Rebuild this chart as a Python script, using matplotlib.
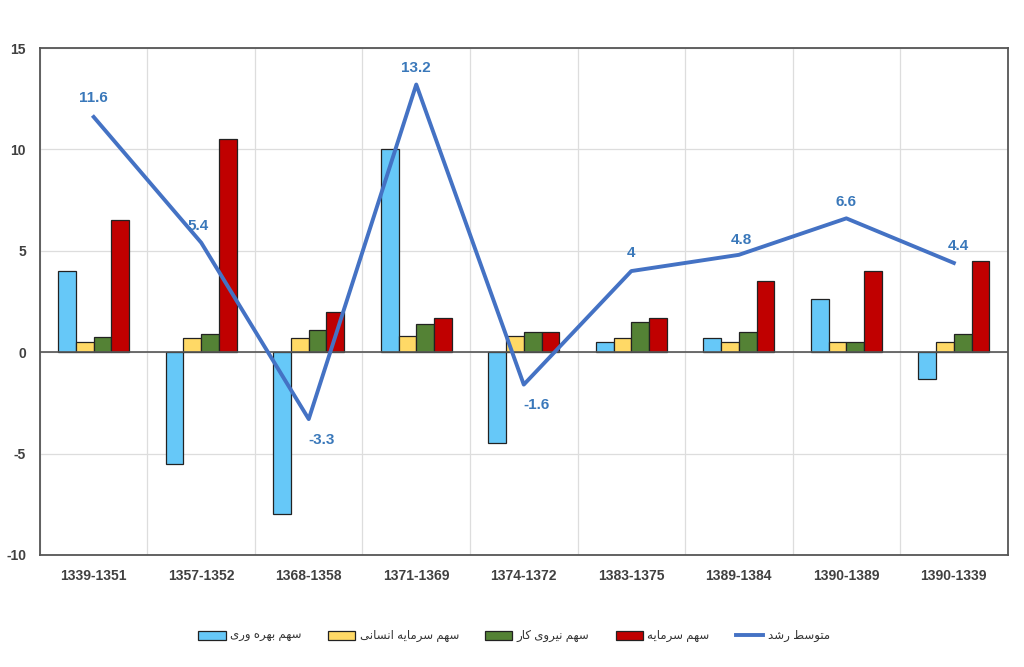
import numpy as np
import matplotlib
matplotlib.use("Agg")
import matplotlib.pyplot as plt
from matplotlib.patches import Patch
from matplotlib.lines import Line2D

plt.rcParams['font.family'] = ['Liberation Sans', 'DejaVu Sans']

# داده‌ها
periods = ['1339-1351', '1357-1352', '1368-1358', '1371-1369', '1374-1372',
           '1383-1375', '1389-1384', '1390-1389', '1390-1339']
productivity = [4.0, -5.5, -8.0, 10.0, -4.5, 0.5, 0.7, 2.6, -1.3]
human_capital = [0.5, 0.7, 0.7, 0.8, 0.8, 0.7, 0.5, 0.5, 0.5]
labour = [0.75, 0.9, 1.1, 1.4, 1.0, 1.5, 1.0, 0.5, 0.9]
capital = [6.5, 10.5, 2.0, 1.7, 1.0, 1.7, 3.5, 4.0, 4.5]
avg_growth = [11.6, 5.4, -3.3, 13.2, -1.6, 4, 4.8, 6.6, 4.4]
label_names = ['سهم بهره وری', 'سهم سرمایه انسانی', 'سهم نیروی کار', 'سهم سرمایه', 'متوسط رشد']

# شکل‌دهی ساده حروف فارسی (matplotlib راست‌به‌چپ را پشتیبانی نمی‌کند)
FORMS = {
    'ا': ('\uFE8D', '\uFE8E', None, None),
    'ب': ('\uFE8F', '\uFE90', '\uFE91', '\uFE92'),
    'ت': ('\uFE95', '\uFE96', '\uFE97', '\uFE98'),
    'د': ('\uFEA9', '\uFEAA', None, None),
    'ر': ('\uFEAD', '\uFEAE', None, None),
    'س': ('\uFEB1', '\uFEB2', '\uFEB3', '\uFEB4'),
    'ش': ('\uFEB5', '\uFEB6', '\uFEB7', '\uFEB8'),
    'ط': ('\uFEC1', '\uFEC2', '\uFEC3', '\uFEC4'),
    'م': ('\uFEE1', '\uFEE2', '\uFEE3', '\uFEE4'),
    'ن': ('\uFEE5', '\uFEE6', '\uFEE7', '\uFEE8'),
    'ه': ('\uFEE9', '\uFEEA', '\uFEEB', '\uFEEC'),
    'و': ('\uFEED', '\uFEEE', None, None),
    'ی': ('\uFBFC', '\uFBFD', '\uFBFE', '\uFBFF'),
    'ک': ('\uFB8E', '\uFB8F', '\uFB90', '\uFB91'),
}


def shape(text):
    out = []
    for i, ch in enumerate(text):
        if ch not in FORMS:
            out.append(ch)
            continue
        iso, fin, ini, med = FORMS[ch]
        prev = text[i - 1] if i > 0 else ''
        nxt = text[i + 1] if i + 1 < len(text) else ''
        jp = prev in FORMS and FORMS[prev][2] is not None
        jn = nxt in FORMS and ini is not None
        if jp and jn:
            out.append(med)
        elif jp:
            out.append(fin)
        elif jn:
            out.append(ini)
        else:
            out.append(iso)
    return ''.join(reversed(out))


colors = ['#66C8F8', '#FFD966', '#548235', '#C00000']
line_color = '#4472C4'
lab_color = '#3A78BA'

x = np.arange(len(periods))
w = 0.165

fig = plt.figure(figsize=(10.24, 6.67), dpi=100)
ax = fig.add_axes([0.039, 0.168, 0.945, 0.760])

series = [productivity, human_capital, labour, capital]
for k, vals in enumerate(series):
    ax.bar(x + (k - 1.5) * w, vals, w, color=colors[k], edgecolor='#222222',
           linewidth=0.9, zorder=3)

ax.plot(x, avg_growth, color=line_color, linewidth=2.8, zorder=4)

offsets = [(0, 14), (-2, 12), (9, -15), (0, 12), (9, -15), (0, 13), (2, 11), (0, 12), (3, 12)]
for i, v in enumerate(avg_growth):
    dx, dy = offsets[i]
    ax.annotate(f'{v:g}', (x[i], v), xytext=(dx, dy), textcoords='offset points',
                ha='center', va='center', color=lab_color, fontsize=11,
                fontweight='bold', zorder=5)

ax.set_xlim(-0.5, len(periods) - 0.5)
ax.set_ylim(-10, 15)
ax.set_yticks([-10, -5, 0, 5, 10, 15])
ax.set_yticklabels(['-10', '-5', '0', '5', '10', '15'])
ax.set_xticks(x)
ax.set_xticklabels(periods)
ax.set_xticks(np.arange(len(periods) + 1) - 0.5, minor=True)
ax.tick_params(axis='both', which='both', length=0, labelsize=10,
               labelcolor='#404040')
ax.tick_params(axis='y', pad=10)
ax.tick_params(axis='x', pad=10)
for t in ax.get_xticklabels() + ax.get_yticklabels():
    t.set_fontweight('bold')

ax.grid(axis='y', which='major', color='#DDDDDD', linewidth=0.9, zorder=0)
ax.grid(axis='x', which='minor', color='#DDDDDD', linewidth=0.9, zorder=0)
ax.grid(axis='x', which='major', visible=False)
ax.axhline(0, color='#555555', linewidth=1.2, zorder=3.5)
for s in ax.spines.values():
    s.set_color('#555555')
    s.set_linewidth(1.3)

handles = [Patch(facecolor=c, edgecolor='#222222', linewidth=0.9) for c in colors]
handles.append(Line2D([0], [0], color=line_color, linewidth=2.8))
fig.legend(handles, [shape(n) for n in label_names], loc='center',
           bbox_to_anchor=(0.502, 0.046), ncol=5, frameon=False,
           markerfirst=True, fontsize=8.5, handlelength=2.3, handleheight=0.85,
           columnspacing=2.2, handletextpad=0.4, labelcolor='#333333')

fig.savefig('out.png', dpi=100)
